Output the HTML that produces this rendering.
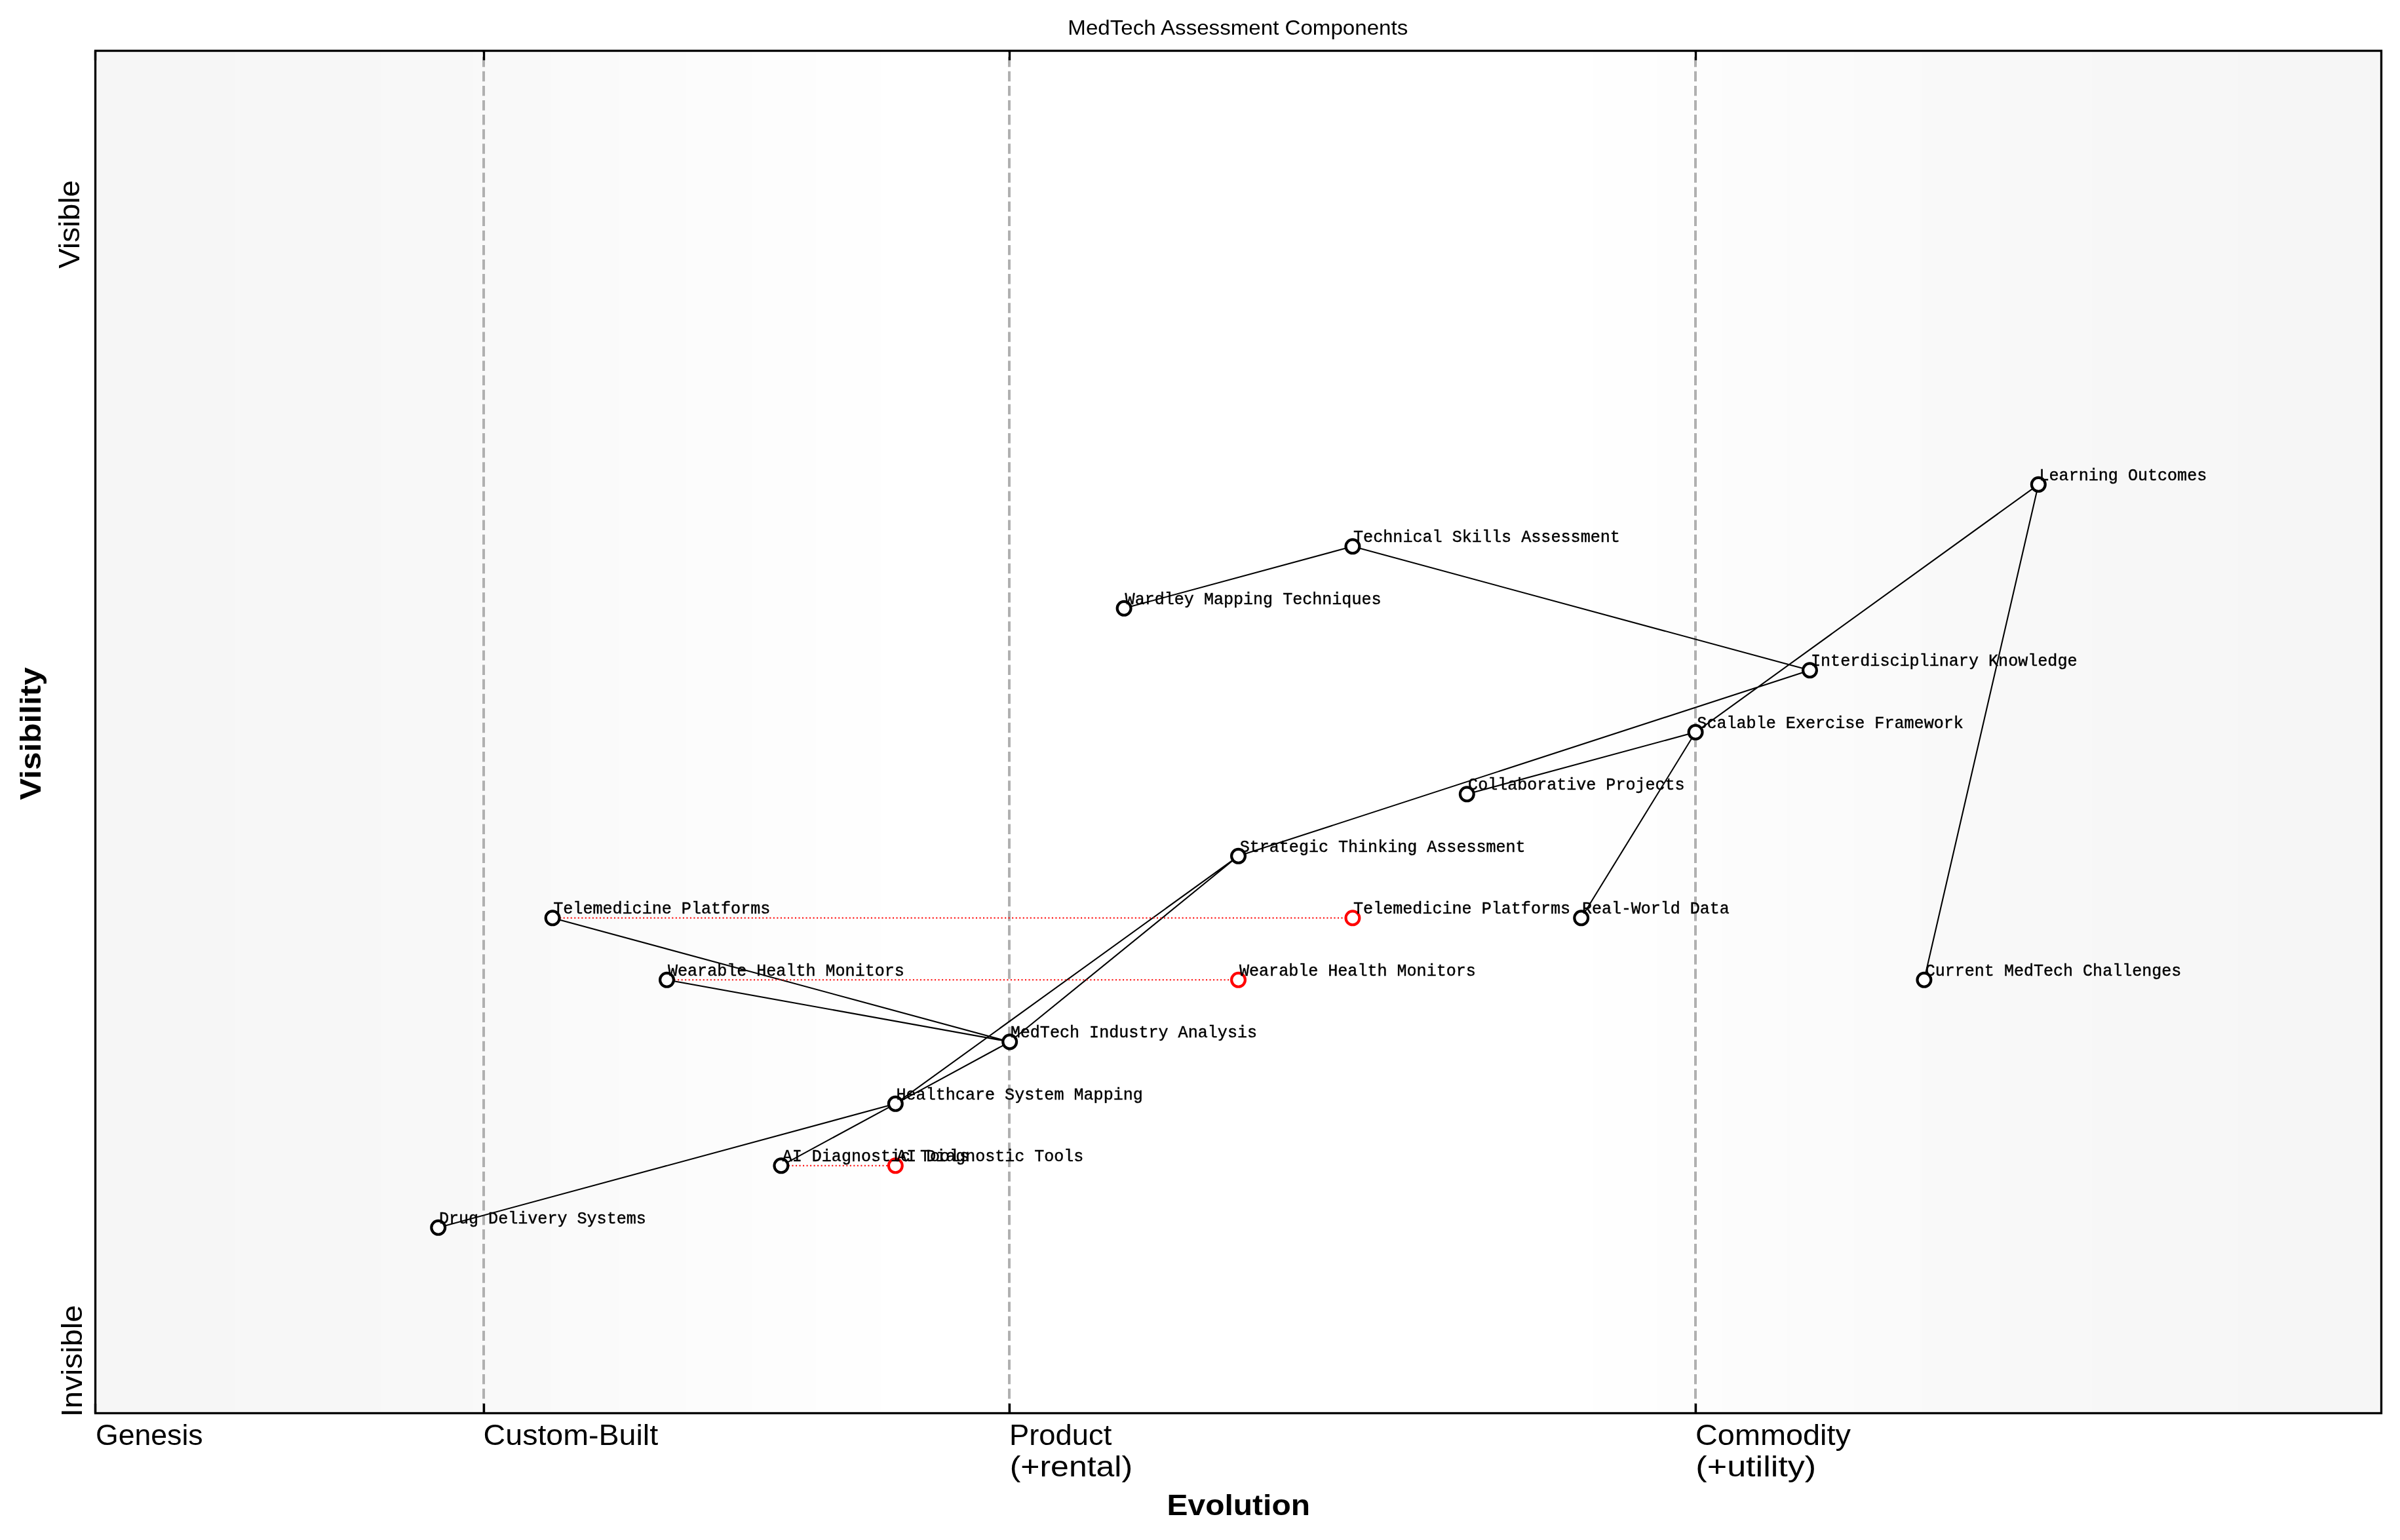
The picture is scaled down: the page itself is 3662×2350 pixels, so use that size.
<!DOCTYPE html><html><head><meta charset="utf-8"><title>MedTech Assessment Components</title><style>html,body{margin:0;padding:0;background:#fff;overflow:hidden}svg{display:block;will-change:transform}</style></head><body>
<svg width="3662" height="2350" viewBox="0 0 3662 2350">
<rect x="0" y="0" width="3662" height="2350" fill="#fff"/>
<rect x="145.5" y="77.5" width="3488.0" height="2079.0" fill="rgb(246,246,246)"/>
<rect x="359" y="77.5" width="3056" height="2079.0" fill="rgb(247,247,247)"/>
<rect x="582" y="77.5" width="2610" height="2079.0" fill="rgb(248,248,248)"/>
<rect x="722" y="77.5" width="2330" height="2079.0" fill="rgb(249,249,249)"/>
<rect x="841" y="77.5" width="2092" height="2079.0" fill="rgb(250,250,250)"/>
<rect x="945" y="77.5" width="1884" height="2079.0" fill="rgb(251,251,251)"/>
<rect x="1047" y="77.5" width="1680" height="2079.0" fill="rgb(252,252,252)"/>
<rect x="1147" y="77.5" width="1480" height="2079.0" fill="rgb(253,253,253)"/>
<rect x="1245" y="77.5" width="1284" height="2079.0" fill="rgb(254,254,254)"/>
<rect x="1344" y="77.5" width="1086" height="2079.0" fill="rgb(255,255,255)"/>
<path d="M738 2156.5V77.5" stroke="#b0b0b0" stroke-width="4" stroke-dasharray="15.42 6.67" fill="none"/>
<path d="M1540 2156.5V77.5" stroke="#b0b0b0" stroke-width="4" stroke-dasharray="15.42 6.67" fill="none"/>
<path d="M2587 2156.5V77.5" stroke="#b0b0b0" stroke-width="4" stroke-dasharray="15.42 6.67" fill="none"/>
<path d="M3110.3 739.3L2587.1 1117.3M3110.3 739.3L2935.9 1495.3M2063.9 833.8L1715.1 928.3M2063.9 833.8L2761.5 1022.8M2761.5 1022.8L1889.5 1306.3M2587.1 1117.3L2238.3 1211.8M2587.1 1117.3L2412.7 1400.8M1889.5 1306.3L1366.3 1684.3M1889.5 1306.3L1540.7 1589.8M1540.7 1589.8L843.1 1400.8M1540.7 1589.8L1017.5 1495.3M1366.3 1684.3L1540.7 1589.8M1366.3 1684.3L668.7 1873.3M1366.3 1684.3L1191.9 1778.8" stroke="#000" stroke-width="2.08" fill="none" stroke-linecap="butt"/>
<path d="M843.1 1400.8H2063.9" stroke="#f00" stroke-width="2.08" stroke-dasharray="2.08 3.44" fill="none"/>
<path d="M1017.5 1495.3H1889.5" stroke="#f00" stroke-width="2.08" stroke-dasharray="2.08 3.44" fill="none"/>
<path d="M1191.9 1778.8H1366.3" stroke="#f00" stroke-width="2.08" stroke-dasharray="2.08 3.44" fill="none"/>
<circle cx="3110.3" cy="739.3" r="10.42" fill="#fff" stroke="#000" stroke-width="4.17"/>
<circle cx="2063.9" cy="833.8" r="10.42" fill="#fff" stroke="#000" stroke-width="4.17"/>
<circle cx="1715.1" cy="928.3" r="10.42" fill="#fff" stroke="#000" stroke-width="4.17"/>
<circle cx="2761.5" cy="1022.8" r="10.42" fill="#fff" stroke="#000" stroke-width="4.17"/>
<circle cx="2587.1" cy="1117.3" r="10.42" fill="#fff" stroke="#000" stroke-width="4.17"/>
<circle cx="2238.3" cy="1211.8" r="10.42" fill="#fff" stroke="#000" stroke-width="4.17"/>
<circle cx="1889.5" cy="1306.3" r="10.42" fill="#fff" stroke="#000" stroke-width="4.17"/>
<circle cx="843.1" cy="1400.8" r="10.42" fill="#fff" stroke="#000" stroke-width="4.17"/>
<circle cx="2412.7" cy="1400.8" r="10.42" fill="#fff" stroke="#000" stroke-width="4.17"/>
<circle cx="2063.9" cy="1400.8" r="10.42" fill="#fff" stroke="#f00" stroke-width="4.17"/>
<circle cx="1017.5" cy="1495.3" r="10.42" fill="#fff" stroke="#000" stroke-width="4.17"/>
<circle cx="1889.5" cy="1495.3" r="10.42" fill="#fff" stroke="#f00" stroke-width="4.17"/>
<circle cx="2935.9" cy="1495.3" r="10.42" fill="#fff" stroke="#000" stroke-width="4.17"/>
<circle cx="1540.7" cy="1589.8" r="10.42" fill="#fff" stroke="#000" stroke-width="4.17"/>
<circle cx="1366.3" cy="1684.3" r="10.42" fill="#fff" stroke="#000" stroke-width="4.17"/>
<circle cx="1191.9" cy="1778.8" r="10.42" fill="#fff" stroke="#000" stroke-width="4.17"/>
<circle cx="1366.3" cy="1778.8" r="10.42" fill="#fff" stroke="#f00" stroke-width="4.17"/>
<circle cx="668.7" cy="1873.3" r="10.42" fill="#fff" stroke="#000" stroke-width="4.17"/>
<text x="3111.52" y="732.6" font-family="Liberation Mono" font-size="26" stroke="#000" stroke-width="0.45" textLength="255.74" lengthAdjust="spacingAndGlyphs">Learning Outcomes</text>
<text x="2065.04" y="827.1" font-family="Liberation Mono" font-size="26" stroke="#000" stroke-width="0.45" textLength="406.89" lengthAdjust="spacingAndGlyphs">Technical Skills Assessment</text>
<text x="1716.6" y="921.6" font-family="Liberation Mono" font-size="26" stroke="#000" stroke-width="0.45" textLength="390.92" lengthAdjust="spacingAndGlyphs">Wardley Mapping Techniques</text>
<text x="2762.98" y="1016.1" font-family="Liberation Mono" font-size="26" stroke="#000" stroke-width="0.45" textLength="406.58" lengthAdjust="spacingAndGlyphs">Interdisciplinary Knowledge</text>
<text x="2589.33" y="1110.6" font-family="Liberation Mono" font-size="26" stroke="#000" stroke-width="0.45" textLength="406.55" lengthAdjust="spacingAndGlyphs">Scalable Exercise Framework</text>
<text x="2240.12" y="1205.1" font-family="Liberation Mono" font-size="26" stroke="#000" stroke-width="0.45" textLength="330.4" lengthAdjust="spacingAndGlyphs">Collaborative Projects</text>
<text x="1891.73" y="1299.6" font-family="Liberation Mono" font-size="26" stroke="#000" stroke-width="0.45" textLength="435.9" lengthAdjust="spacingAndGlyphs">Strategic Thinking Assessment</text>
<text x="844.24" y="1394.1" font-family="Liberation Mono" font-size="26" stroke="#000" stroke-width="0.45" textLength="331.08" lengthAdjust="spacingAndGlyphs">Telemedicine Platforms</text>
<text x="2413.97" y="1394.1" font-family="Liberation Mono" font-size="26" stroke="#000" stroke-width="0.45" textLength="224.72" lengthAdjust="spacingAndGlyphs">Real-World Data</text>
<text x="2065.04" y="1394.1" font-family="Liberation Mono" font-size="26" stroke="#000" stroke-width="0.45" textLength="331.08" lengthAdjust="spacingAndGlyphs">Telemedicine Platforms</text>
<text x="1019" y="1488.6" font-family="Liberation Mono" font-size="26" stroke="#000" stroke-width="0.45" textLength="360.82" lengthAdjust="spacingAndGlyphs">Wearable Health Monitors</text>
<text x="1891" y="1488.6" font-family="Liberation Mono" font-size="26" stroke="#000" stroke-width="0.45" textLength="360.82" lengthAdjust="spacingAndGlyphs">Wearable Health Monitors</text>
<text x="2937.72" y="1488.6" font-family="Liberation Mono" font-size="26" stroke="#000" stroke-width="0.45" textLength="390.61" lengthAdjust="spacingAndGlyphs">Current MedTech Challenges</text>
<text x="1541.67" y="1583.1" font-family="Liberation Mono" font-size="26" stroke="#000" stroke-width="0.45" textLength="376.4" lengthAdjust="spacingAndGlyphs">MedTech Industry Analysis</text>
<text x="1367.49" y="1677.6" font-family="Liberation Mono" font-size="26" stroke="#000" stroke-width="0.45" textLength="376.41" lengthAdjust="spacingAndGlyphs">Healthcare System Mapping</text>
<text x="1193.85" y="1772.1" font-family="Liberation Mono" font-size="26" stroke="#000" stroke-width="0.45" textLength="285.11" lengthAdjust="spacingAndGlyphs">AI Diagnostic Tools</text>
<text x="1368.25" y="1772.1" font-family="Liberation Mono" font-size="26" stroke="#000" stroke-width="0.45" textLength="285.11" lengthAdjust="spacingAndGlyphs">AI Diagnostic Tools</text>
<text x="669.89" y="1866.6" font-family="Liberation Mono" font-size="26" stroke="#000" stroke-width="0.45" textLength="315.98" lengthAdjust="spacingAndGlyphs">Drug Delivery Systems</text>
<rect x="145.5" y="77.5" width="3488.0" height="2079.0" fill="none" stroke="#000" stroke-width="3.33"/>
<path d="M145.5 2156.5v-14.58M145.5 77.5v14.58M738.5 2156.5v-14.58M738.5 77.5v14.58M1540.5 2156.5v-14.58M1540.5 77.5v14.58M2587.5 2156.5v-14.58M2587.5 77.5v14.58" stroke="#000" stroke-width="3.33" fill="none"/>
<text x="146.01" y="2205" font-family="Liberation Sans" font-weight="normal" font-size="43.75" textLength="163.6" lengthAdjust="spacingAndGlyphs">Genesis</text>
<text x="737.64" y="2205" font-family="Liberation Sans" font-weight="normal" font-size="43.75" textLength="266.46" lengthAdjust="spacingAndGlyphs">Custom-Built</text>
<text x="1540.03" y="2205" font-family="Liberation Sans" font-weight="normal" font-size="43.75" textLength="156.3" lengthAdjust="spacingAndGlyphs">Product</text>
<text x="1540.65" y="2253.1" font-family="Liberation Sans" font-weight="normal" font-size="43.75" textLength="187.45" lengthAdjust="spacingAndGlyphs">(+rental)</text>
<text x="2587.02" y="2205" font-family="Liberation Sans" font-weight="normal" font-size="43.75" textLength="236.82" lengthAdjust="spacingAndGlyphs">Commodity</text>
<text x="2587.37" y="2253.1" font-family="Liberation Sans" font-weight="normal" font-size="43.75" textLength="183.86" lengthAdjust="spacingAndGlyphs">(+utility)</text>
<text x="1780.59" y="2311.8" font-family="Liberation Sans" font-weight="bold" font-size="43.75" textLength="218.38" lengthAdjust="spacingAndGlyphs">Evolution</text>
<text transform="translate(61.7,1220.5) rotate(-90)" x="-0.34" y="0" font-family="Liberation Sans" font-weight="bold" font-size="43.75" textLength="202.7" lengthAdjust="spacingAndGlyphs">Visibility</text>
<text transform="translate(120.8,409.6) rotate(-90)" x="-0.2" y="0" font-family="Liberation Sans" font-weight="normal" font-size="43.75" textLength="134.83" lengthAdjust="spacingAndGlyphs">Visible</text>
<text transform="translate(124.9,2157.9) rotate(-90)" x="-4.36" y="0" font-family="Liberation Sans" font-weight="normal" font-size="43.75" textLength="170.76" lengthAdjust="spacingAndGlyphs">Invisible</text>
<text x="1629.31" y="52.7" font-family="Liberation Sans" font-weight="normal" font-size="31.19" textLength="518.97" lengthAdjust="spacingAndGlyphs">MedTech Assessment Components</text>
</svg></body></html>
